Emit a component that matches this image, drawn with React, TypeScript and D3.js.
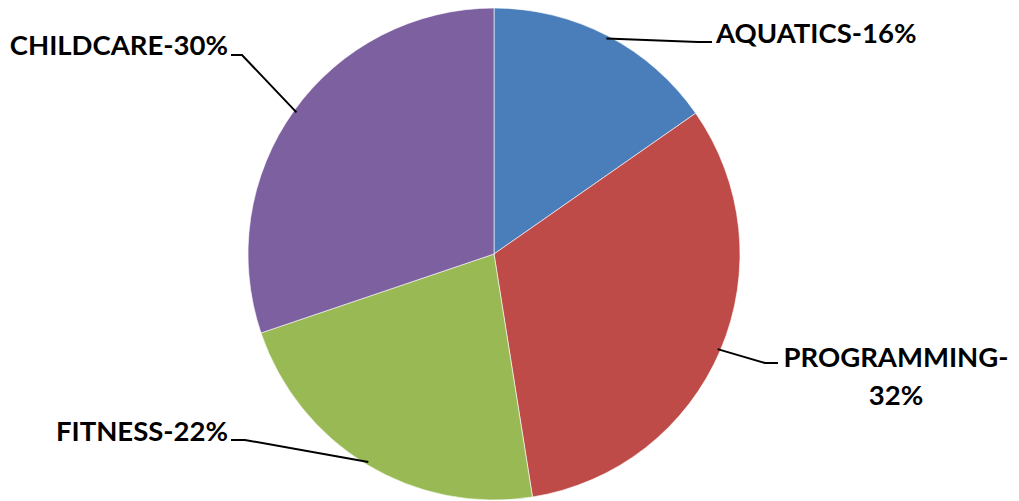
import React from "react";
import * as d3 from "d3";

const categories = ["AQUATICS", "PROGRAMMING", "FITNESS", "CHILDCARE"];
const values = [15.3, 32.2, 22.3, 30.2];
const colors = ["#4A7EBB", "#BE4B48", "#98B954", "#7D60A0"];
const labelLines = [["AQUATICS-16%"], ["PROGRAMMING-", "32%"], ["FITNESS-22%"], ["CHILDCARE-30%"]];

const W = 1019;
const H = 501;
const cx = 494;
const cy = 254;
const R = 246;

// label layout: [x, baseline y, anchor, elbow x, elbow y, end x]
const labelLayout: [number, number, string, number, number, number][] = [
  [716, 43, "start", 698, 42, 712],
  [896, 367, "middle", 765, 363, 778],
  [228, 441, "end", 245, 440, 231],
  [228, 55, "end", 242, 55, 231],
];

export default function App() {
  const pie = d3.pie<number>().sort(null).value((d) => d);
  const arcs = pie(values);
  const arcGen = d3.arc<d3.PieArcDatum<number>>().innerRadius(0).outerRadius(R);

  return (
    <svg width={W} height={H} style={{ position: "absolute", left: 0, top: 0, background: "#fff" }}>
      <g transform={`translate(${cx},${cy})`}>
        {arcs.map((a, i) => (
          <path key={i} d={arcGen(a) || ""} fill={colors[i]} stroke="#ffffff" strokeOpacity={0.6} strokeWidth={1} />
        ))}
      </g>
      {arcs.map((a, i) => {
        const mid = (a.startAngle + a.endAngle) / 2;
        const r0 = R - 3;
        const sx = cx + r0 * Math.sin(mid);
        const sy = cy - r0 * Math.cos(mid);
        const [lx, ly, anchor, ex, ey, endX] = labelLayout[i];
        return (
          <g key={"l" + i}>
            <polyline
              points={`${sx},${sy} ${ex},${ey} ${endX},${ey}`}
              fill="none"
              stroke="#000"
              strokeWidth={2}
            />
            <text
              x={lx}
              y={ly}
              textAnchor={anchor}
              fontFamily="Lato, 'Open Sans', sans-serif"
              fontWeight={700}
              fontSize={27.5}
              fill="#000"
            >
              {labelLines[i].map((t, k) => (
                <tspan key={k} x={lx} y={ly + k * 38}>
                  {t}
                </tspan>
              ))}
            </text>
          </g>
        );
      })}
    </svg>
  );
}
